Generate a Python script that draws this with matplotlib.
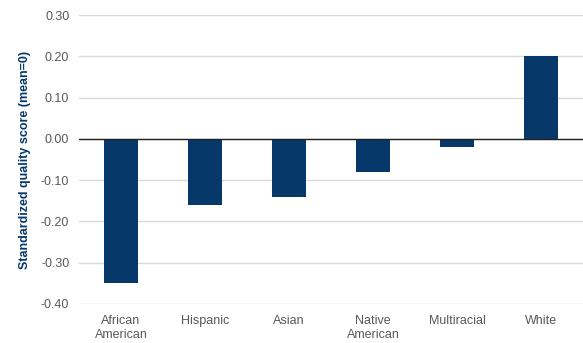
import matplotlib.pyplot as plt

categories = ["African\nAmerican", "Hispanic", "Asian", "Native\nAmerican", "Multiracial", "White"]
scores = [-0.35, -0.16, -0.14, -0.08, -0.02, 0.20]
yticks = [0.30, 0.20, 0.10, 0.00, -0.10, -0.20, -0.30, -0.40]

plt.rcParams['font.family'] = ['Liberation Sans', 'DejaVu Sans']

fig = plt.figure(figsize=(5.83, 3.43), dpi=100)
ax = fig.add_axes([79 / 583, 1 - 304 / 343, 1 - 79 / 583, (304 - 15) / 343])

x = range(len(categories))
ax.bar(x, scores, width=0.4, color='#06386a', zorder=3)
ax.axhline(0, color='#222222', lw=1, zorder=4)

ax.set_ylim(-0.40, 0.30)
ax.set_xlim(-0.5, len(categories) - 0.5)
ax.set_yticks(yticks)
ax.set_yticklabels([f"{v:.2f}" for v in yticks])
ax.set_xticks(list(x))
ax.set_xticklabels(categories)
ax.grid(axis='y', color='#d9d9d9', lw=1, zorder=0)
for s in ax.spines.values():
    s.set_visible(False)
ax.tick_params(axis='both', length=0, labelsize=9, colors='#595959')
ax.tick_params(axis='y', pad=7)
ax.tick_params(axis='x', pad=8)
ax.set_ylabel("Standardized quality score (mean=0)", color='#06386a',
              fontsize=9, fontweight='bold', labelpad=7)

fig.savefig("out.png", dpi=100)
